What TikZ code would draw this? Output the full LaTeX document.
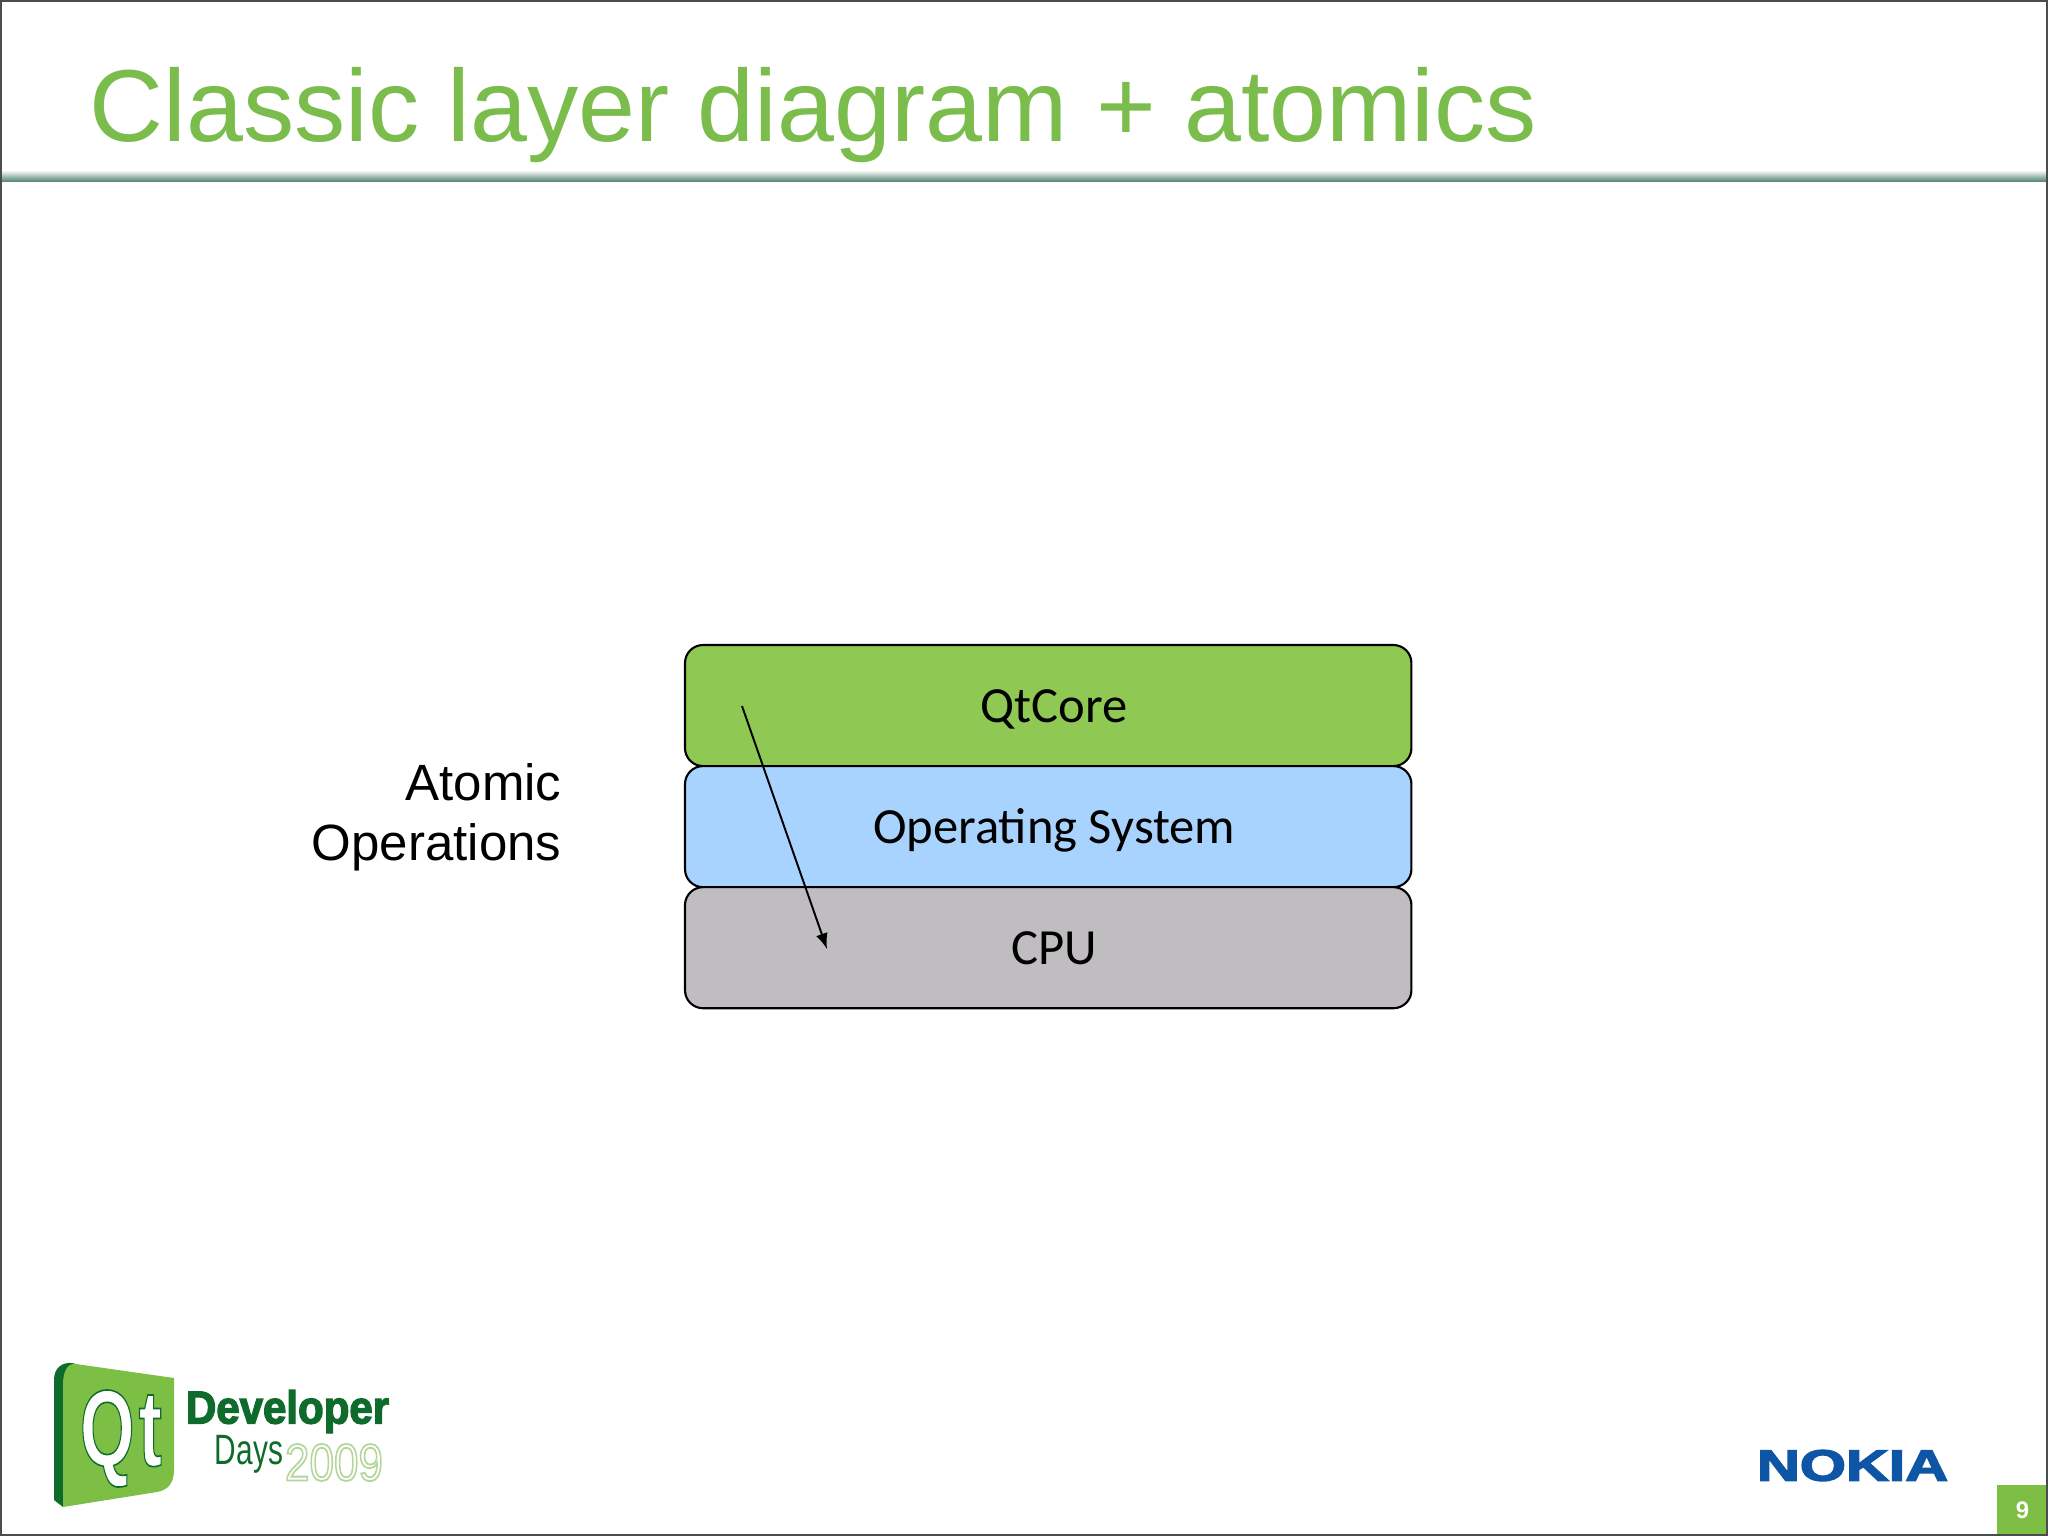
\documentclass[tikz,border=0pt]{standalone}
\usepackage{graphicx}
\usepackage{fontspec}
\setmainfont{Liberation Sans}
\newfontfamily\boxfont{Carlito}
\usetikzlibrary{positioning}
\definecolor{titlegreen}{HTML}{7ABD4C}
\definecolor{coregreen}{HTML}{8FC954}
\definecolor{osblue}{HTML}{A8D3FE}
\definecolor{cpugray}{HTML}{BFBDC0}
\definecolor{rulegreen}{HTML}{5B8A76}
\definecolor{logogreen}{HTML}{7DBF45}
\definecolor{logodark}{HTML}{0F6B2C}
\definecolor{outlinegreen}{HTML}{B5D69A}
\definecolor{nokiablue}{HTML}{0F55A5}
\tikzset{
  layerbox/.style={draw=black,line width=0.6pt,rounded corners=0.18cm,minimum width=7.26cm,minimum height=1.21cm,inner sep=0,outer sep=0,text height=9.6pt,text depth=0pt,font=\boxfont\fontsize{14.4}{16}\selectfont},
  logotext/.style={inner sep=0,outer sep=0,anchor=north west},
}
\newcommand{\heavytext}[2]{\special{pdf:code 2 Tr #1 w}#2\special{pdf:code 0 Tr}}
\begin{document}
\begin{tikzpicture}[x=0.01cm,y=-0.01cm]
  \def\pagew{2048} \def\pageh{1536} % Page size
  \useasboundingbox (0,0) rectangle (\pagew,\pageh);
  \fill[white] (0,0) rectangle (\pagew,\pageh);
  \shade[top color=white,bottom color=rulegreen] (0,170) rectangle (\pagew,181);
  \node[inner sep=0,anchor=base west,text=titlegreen,font=\fontsize{29.1}{34}\selectfont] (title) at (89,141) {Classic layer diagram + atomics};
  % Layers
  \node[layerbox,fill=coregreen,anchor=north west] (qtcore) at (685,645) {\hspace{3.4pt}QtCore};
  \node[layerbox,fill=osblue,below=0pt of qtcore] (os) {\hspace{3.4pt}Operating System};
  \node[layerbox,fill=cpugray,below=0pt of os] (cpu) {\hspace{3.4pt}CPU};
  \node[inner sep=0,anchor=east,align=right,font=\fontsize{14.5}{17}\selectfont] (atomic) at (562,817) {Atomic\\Operations};
  \coordinate (arrowstart) at (742,706);
  \coordinate (arrowend) at (827,949);
  \draw[-latex,line width=0.55pt] (arrowstart)--(arrowend);
  % Qt logo
  \fill[logodark] (54,1380) .. controls (54,1368) and (62,1362) .. (72,1363)--(76,1364)--(63,1385)--(63,1507)--(54,1500)--cycle;
  \fill[logogreen] (63,1385) .. controls (63,1370) and (68,1363) .. (76,1364)--(174,1378)--(174,1470) .. controls (174,1483) and (168,1490) .. (157,1492)--(63,1507)--cycle;
  \node[logotext,text=white,font=\bfseries] (qt) at (80,1390) {\resizebox*{0.82cm}{0.97cm}{\special{pdf:code 0.06 0.42 0.17 RG 2 Tr 0.15 w}Q\kern0.06em t\special{pdf:code 0 Tr}}};
  \node[logotext,text=logodark,font=\bfseries] (developer) at (186,1390) {\resizebox*{2.03cm}{0.43cm}{\heavytext{0.3}{Developer}}};
  \node[logotext,text=logodark] (days) at (215,1435) {\resizebox*{0.68cm}{0.38cm}{Days}};
  \node[logotext,text=outlinegreen] (year) at (285,1444) {\resizebox*{0.98cm}{0.37cm}{\special{pdf:code 1 Tr 0.35 w}2009\special{pdf:code 0 Tr}}};
  % Nokia logo and page number
  \node[logotext,text=nokiablue,font=\bfseries] (nokia) at (1757,1450) {\resizebox*{1.91cm}{0.31cm}{\heavytext{0.3}{NOKIA}}};
  \node[fill=logogreen,inner sep=0,minimum size=0.51cm,outer sep=0,anchor=north west,text=white,font=\bfseries\fontsize{6.8}{8}\selectfont] (pagenum) at (1997,1485) {9};
  \draw[black!70,line width=0.55pt] (1,1) rectangle (\pagew-1,\pageh-1);
\end{tikzpicture}
\end{document}
